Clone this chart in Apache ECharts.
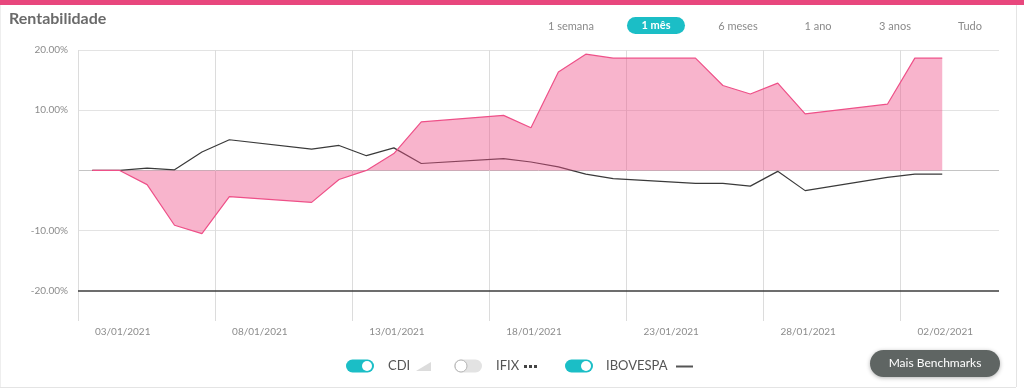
<!DOCTYPE html>
<html>
<head>
<meta charset="utf-8">
<script src="https://cdn.jsdelivr.net/npm/echarts@6/dist/echarts.min.js"></script>
<style>
  html, body { margin: 0; padding: 0; background: #fff; }
  #chart { width: 1024px; height: 389px; }
</style>
</head>
<body>
<div id="chart"></div>
<script>
// ---- data ----
const title = 'Rentabilidade';
const periodButtons = ['1 semana', '1 mês', '6 meses', '1 ano', '3 anos', 'Tudo'];
const tickLabels = ['03/01/2021', '08/01/2021', '13/01/2021', '18/01/2021', '23/01/2021', '28/01/2021', '02/02/2021'];
const yTickValues = [20, 10, -10, -20];
const dates = ['03/01/2021', '04/01/2021', '05/01/2021', '06/01/2021', '07/01/2021', '08/01/2021',
  '11/01/2021', '12/01/2021', '13/01/2021', '14/01/2021', '15/01/2021',
  '18/01/2021', '19/01/2021', '20/01/2021', '21/01/2021', '22/01/2021',
  '25/01/2021', '26/01/2021', '27/01/2021', '28/01/2021', '29/01/2021',
  '01/02/2021', '02/02/2021', '03/02/2021'];
const cdi = [0, 0, -2.35, -9.1, -10.5, -4.35,
  -5.3, -1.5, 0, 2.8, 8.05,
  9.15, 7.1, 16.35, 19.3, 18.65,
  18.65, 14.1, 12.7, 14.5, 9.4,
  11.0, 18.65, 18.65];
const ibovespa = [0, 0, 0.4, 0.1, 3.05, 5.1,
  3.55, 4.15, 2.45, 3.75, 1.15,
  1.95, 1.4, 0.6, -0.6, -1.35,
  -2.15, -2.15, -2.6, -0.15, -3.35,
  -1.15, -0.6, -0.6];
const legendItems = ['CDI', 'IFIX', 'IBOVESPA'];
const buttonLabel = 'Mais Benchmarks';

// ---- helpers ----
function dayNum(s) {
  const p = s.split('/').map(Number);
  return Date.UTC(p[2], p[1] - 1, p[0]) / 86400000;
}
const day0 = dayNum(tickLabels[0]);
const xOf = s => dayNum(s) - day0 + 0.52; // points sit at midday
const cdiData = dates.map((d, i) => [xOf(d), cdi[i]]);
const ibovData = dates.map((d, i) => [xOf(d), ibovespa[i]]);

const FONT = 'Lato, "Open Sans", sans-serif';
const TEAL = '#1bbec6';
const PINK = '#ee5088';

const chart = echarts.init(document.getElementById('chart'), null, { renderer: 'canvas' });

// graphic elements (header, buttons, legend)
const graphics = [];
graphics.push({ type: 'rect', shape: { x: 0, y: 0, width: 1024, height: 5 }, style: { fill: '#e8477d' }, silent: true });
graphics.push({ type: 'line', shape: { x1: 1016.5, y1: 5, x2: 1016.5, y2: 387 }, style: { stroke: '#e4e4e4', lineWidth: 1 }, silent: true });
graphics.push({ type: 'line', shape: { x1: 0, y1: 387.5, x2: 1016, y2: 387.5 }, style: { stroke: '#e4e4e4', lineWidth: 1 }, silent: true });
graphics.push({ type: 'line', shape: { x1: 0.5, y1: 5, x2: 0.5, y2: 387 }, style: { stroke: '#eeeeee', lineWidth: 1 }, silent: true });
graphics.push({ type: 'text', x: 9, y: 11, style: { text: title, font: 'bold 16px ' + FONT, fill: '#6a6a6a' } });

const btnCenters = [571, 656, 738, 818, 895, 970];
periodButtons.forEach((t, i) => {
  if (i === 1) {
    graphics.push({ type: 'rect', shape: { x: 627, y: 17, width: 58, height: 17, r: 8.5 }, style: { fill: TEAL } });
    graphics.push({ type: 'text', x: btnCenters[i], y: 25.5, style: { text: t, font: 'bold 11px ' + FONT, fill: '#fff', align: 'center', verticalAlign: 'middle' } });
  } else {
    graphics.push({ type: 'text', x: btnCenters[i], y: 26.5, style: { text: t, font: '11px ' + FONT, fill: '#8a8a8a', align: 'center', verticalAlign: 'middle' } });
  }
});

// legend toggles
const ly = 366;
function toggle(x, on) {
  if (on) {
    graphics.push({ type: 'rect', shape: { x: x, y: ly - 6.5, width: 28, height: 13, r: 6.5 }, style: { fill: TEAL } });
    graphics.push({ type: 'circle', shape: { cx: x + 21, cy: ly, r: 5 }, style: { fill: '#fff' } });
  } else {
    graphics.push({ type: 'rect', shape: { x: x, y: ly - 6.5, width: 28, height: 13, r: 6.5 }, style: { fill: '#e3e3e3' } });
    graphics.push({ type: 'circle', shape: { cx: x + 7, cy: ly, r: 6 }, style: { fill: '#fff', stroke: '#b5b5b5', lineWidth: 1 } });
  }
}
toggle(346, true);
graphics.push({ type: 'text', x: 388, y: ly, style: { text: legendItems[0], font: '13px ' + FONT, fill: '#555', verticalAlign: 'middle' } });
graphics.push({ type: 'polygon', shape: { points: [[416, ly + 5], [431, ly + 5], [431, ly - 4]] }, style: { fill: '#dcdcdc' } });
toggle(454, false);
graphics.push({ type: 'text', x: 496, y: ly, style: { text: legendItems[1], font: '13px ' + FONT, fill: '#555', verticalAlign: 'middle' } });
[524, 529, 534].forEach(cx => graphics.push({ type: 'rect', shape: { x: cx, y: ly - 1, width: 3, height: 3 }, style: { fill: '#444' } }));
toggle(565, true);
graphics.push({ type: 'text', x: 606, y: ly, style: { text: legendItems[2], font: '13px ' + FONT, fill: '#555', verticalAlign: 'middle' } });
graphics.push({ type: 'rect', shape: { x: 676, y: ly - 0.5, width: 17, height: 2 }, style: { fill: '#555' } });

// Mais Benchmarks button
graphics.push({ type: 'rect', shape: { x: 870, y: 350, width: 130, height: 27, r: 13.5 },
  style: { fill: '#5f6563', shadowBlur: 4, shadowColor: 'rgba(0,0,0,0.3)', shadowOffsetY: 1 } });
graphics.push({ type: 'text', x: 935, y: 363.5, style: { text: buttonLabel, font: '12px ' + FONT, fill: '#fff', align: 'center', verticalAlign: 'middle' } });

const option = {
  animation: false,
  backgroundColor: '#fff',
  textStyle: { fontFamily: FONT },
  grid: { left: 78, top: 50, width: 921, height: 271, containLabel: false },
  xAxis: [{
    type: 'value', min: 0, max: 33.59, interval: 5,
    axisLine: { show: false }, axisTick: { show: false },
    splitLine: { show: true, showMaxLine: false, lineStyle: { color: '#dcdcdc', width: 1 } },
    axisLabel: {
      showMaxLabel: false, color: '#8c8c8c', fontSize: 10, fontFamily: FONT,
      align: 'left', margin: 6, padding: [0, 0, 0, 17],
      formatter: v => tickLabels[Math.round(v / 5)] || ''
    }
  }],
  yAxis: [{
    type: 'value', min: -25, max: 20, interval: 5,
    axisLine: { show: false }, axisTick: { show: false },
    splitLine: { show: true, lineStyle: { width: 1, color: ['transparent', 'transparent', 'transparent', '#e3e3e3', 'transparent', '#c4c4c4', 'transparent', '#e3e3e3', 'transparent', '#e3e3e3'] } },
    axisLabel: {
      color: '#8c8c8c', fontSize: 10, fontFamily: FONT, margin: 10,
      formatter: v => yTickValues.indexOf(v) >= 0 ? v.toFixed(2) + '%' : ''
    }
  }],
  series: [
    {
      name: 'IBOVESPA', type: 'line', data: ibovData, showSymbol: false, symbol: 'none',
      lineStyle: { color: '#3a3a3a', width: 1.2 }, z: 2,
      markLine: {
        silent: true, symbol: ['none', 'none'], label: { show: false },
        lineStyle: { color: '#3c3c3c', width: 1.6, type: 'solid' },
        data: [{ yAxis: -20 }], animation: false
      }
    },
    {
      name: 'CDI', type: 'line', data: cdiData, showSymbol: false, symbol: 'none',
      lineStyle: { color: PINK, width: 1.2 },
      areaStyle: { color: 'rgba(238,80,136,0.43)', opacity: 1, origin: 0 }, z: 3
    }
  ],
  graphic: graphics
};
chart.setOption(option);
</script>
</body>
</html>
